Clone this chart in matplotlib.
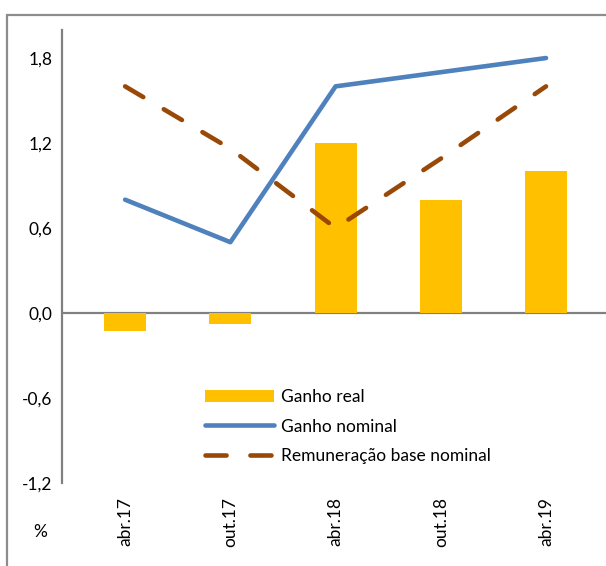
import matplotlib
matplotlib.use("Agg")
import matplotlib.pyplot as plt
from matplotlib.patches import Rectangle
import numpy as np

categories = ["abr.17", "out.17", "abr.18", "out.18", "abr.19"]
ganho_real = [-0.13, -0.08, 1.2, 0.8, 1.0]
ganho_nominal = [0.8, 0.5, 1.6, 1.7, 1.8]
remun_base = [1.6, 1.16, 0.6, 1.09, 1.6]
yticks = [-1.2, -0.6, 0.0, 0.6, 1.2, 1.8]

plt.rcParams['font.family'] = ['Lato', 'DejaVu Sans']

W, H = 606, 566
fig = plt.figure(figsize=(W / 100, H / 100), dpi=100)

# outer border (chart area frame)
fig.patches.append(Rectangle((7 / W, -0.05), 1.2, (H - 15) / H + 0.05,
                             transform=fig.transFigure, fill=False,
                             edgecolor='#8c8c8c', linewidth=1.6, zorder=0))

ax = fig.add_axes([62 / W, 1 - 483 / H, 1 - 62 / W, (483 - 29.7) / H])
x = np.arange(len(categories))

b = ax.bar(x, ganho_real, width=0.4, color='#FFC000', label='Ganho real', zorder=2)
l1, = ax.plot(x, ganho_nominal, color='#4F81BD', linewidth=3.3,
              solid_capstyle='round', label='Ganho nominal', zorder=3)
l2, = ax.plot(x, remun_base, color='#984807', linewidth=3.3, linestyle=(0, (4.6, 5.2)),
              dash_capstyle='round', label='Remuneração base nominal', zorder=4)

ax.axhline(0, color='#808080', linewidth=1.6, zorder=1)

ax.set_xlim(-0.6, 4.57)
ax.set_ylim(-1.2, 2.0)
ax.set_yticks(yticks)
ax.set_yticklabels([f"{v:.1f}".replace('.', ',') for v in yticks], fontsize=12.5)
ax.set_xticks(x)
ax.set_xticklabels(categories, rotation=90, fontsize=12.5)
ax.tick_params(axis='both', length=0, colors='black')
ax.tick_params(axis='y', pad=7)
ax.tick_params(axis='x', pad=10)

for s in ['top', 'right', 'bottom']:
    ax.spines[s].set_visible(False)
ax.spines['left'].set_color('#808080')
ax.spines['left'].set_linewidth(1.6)

fig.text(40 / W, 1 - 532 / H, "%", fontsize=12.5, ha='center', va='center')

leg = ax.legend([b, l1, l2], ['Ganho real', 'Ganho nominal', 'Remuneração base nominal'],
                loc='upper left', bbox_to_anchor=(205 / W, 1 - 389 / H),
                bbox_transform=fig.transFigure, frameon=False, fontsize=12.5,
                handlelength=4.0, handletextpad=0.4, labelspacing=0.78,
                borderpad=0, borderaxespad=0)

fig.savefig("out.png", dpi=100)
